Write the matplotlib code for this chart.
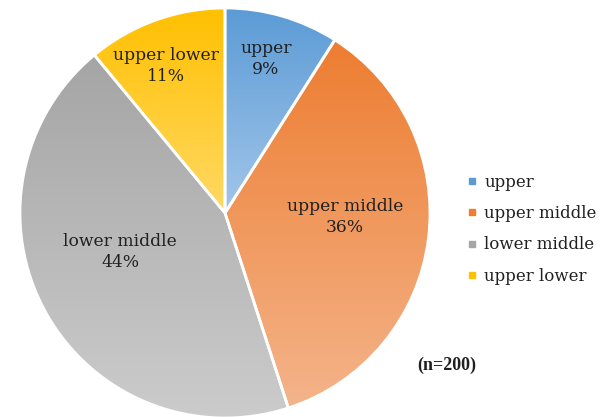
import numpy as np
import matplotlib
matplotlib.use("Agg")
import matplotlib.pyplot as plt
from matplotlib.colors import LinearSegmentedColormap
from matplotlib.lines import Line2D

# data
categories = ["upper", "upper middle", "lower middle", "upper lower"]
counts = [18, 72, 88, 22]   # n=200
n_total = 200
top_colors = ["#5b9bd5", "#ed7d31", "#a5a5a5", "#ffc000"]
bottom_colors = ["#a3c6ea", "#f4b48a", "#cccccc", "#ffd966"]

plt.rcParams["font.family"] = ["DejaVu Serif"]

fig = plt.figure(figsize=(6.04, 4.17), dpi=100)
W, H = 604, 417
cx, cy, r = 225, 213, 205
ax = fig.add_axes([(cx - r) / W, (H - cy - r) / H, 2 * r / W, 2 * r / H])

wedges, _ = ax.pie(counts, startangle=90, counterclock=False,
                   wedgeprops=dict(edgecolor="white", linewidth=2))

grad = np.linspace(0, 1, 256).reshape(-1, 1)
for w, c0, c1 in zip(wedges, top_colors, bottom_colors):
    verts = w.get_path().vertices
    x0, y0 = verts.min(axis=0)
    x1, y1 = verts.max(axis=0)
    cmap = LinearSegmentedColormap.from_list("g", [c0, c1])
    im = ax.imshow(grad, cmap=cmap, extent=(x0, x1, y0, y1), origin="upper",
                   aspect="auto", zorder=0, interpolation="bilinear")
    im.set_clip_path(w)
    w.set_facecolor("none")
    w.set_zorder(2)
ax.set_xlim(-1, 1)
ax.set_ylim(-1, 1)

# label spots (pie units)
label_pos = [(0.20, 0.75), (0.585, -0.02), (-0.512, -0.19), (-0.288, 0.717)]
for name, c, (lx, ly) in zip(categories, counts, label_pos):
    pct = round(100 * c / n_total)
    ax.text(lx, ly, f"{name}\n{pct}%", ha="center", va="center",
            fontsize=12.3, color="#202020", linespacing=1.3, zorder=3)

handles = [Line2D([], [], marker="s", linestyle="none", markersize=5,
                  markerfacecolor=c, markeredgecolor=c) for c in top_colors]
fig.legend(handles, categories, loc="upper left",
           bbox_to_anchor=(452 / W, 1 - 159 / H), frameon=False,
           fontsize=12, handlelength=0.6, handletextpad=0.45,
           labelspacing=0.85, labelcolor="#202020")

fig.text(417 / W, 1 - 365 / H, f"(n={n_total})", fontsize=13,
         family="Liberation Serif", fontweight="bold", color="#202020",
         va="center")

fig.savefig("out.png", dpi=100)
